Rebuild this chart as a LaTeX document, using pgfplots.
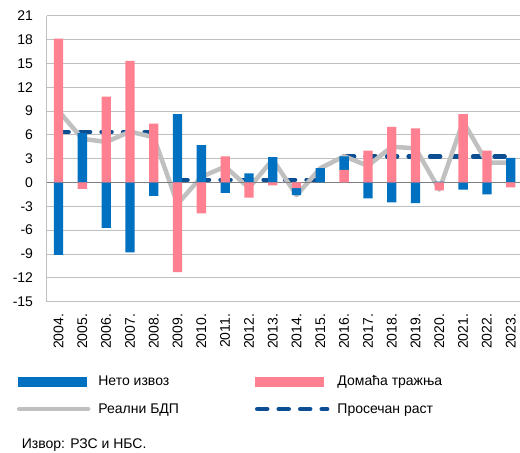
\documentclass[border=0pt]{standalone}
\usepackage{fontspec}
\setmainfont{Liberation Sans}
\usepackage{pgfplots}
\pgfplotsset{compat=1.18}
\definecolor{nx}{RGB}{0,112,192}
\definecolor{dt}{RGB}{255,128,144}
\definecolor{gdp}{RGB}{192,192,192}
\definecolor{avgc}{RGB}{12,78,146}
\definecolor{gridc}{RGB}{191,191,191}
\definecolor{zeroc}{RGB}{128,128,128}
\newcommand{\ff}{\fontsize{14}{16}\selectfont}
\begin{document}
\begin{tikzpicture}
\begin{axis}[name=ax, scale only axis, width=473.4pt, height=286pt,
  xmin=-0.5, xmax=19.39, ymin=-15, ymax=21, enlargelimits=false,
  ybar stacked, stack negative=separate, bar width=9.3pt,
  ytick={-15,-12,...,21},
  yticklabels={-15,-12,-9,-6,-3,0,3,6,9,12,15,18,21},
  xtick={0,...,19},
  xticklabels={2004.,2005.,2006.,2007.,2008.,2009.,2010.,2011.,2012.,2013.,2014.,2015.,2016.,2017.,2018.,2019.,2020.,2021.,2022.,2023.},
  tick label style={font=\ff, inner sep=0pt},
  xticklabel style={rotate=90, anchor=east},
  yticklabel style={anchor=east},
  xticklabel shift=12pt, yticklabel shift=13.5pt,
  major tick length=0pt,
  axis lines*=left,
  axis line style={gridc, line width=0.9pt, -},
  ymajorgrids, major grid style={gridc, line width=0.9pt},
  legend columns=2,
  legend style={at={(axis description cs:0,0)}, anchor=north west,
    xshift=-30pt, yshift=-72pt, draw=none, fill=none, inner sep=0pt,
    font=\ff, row sep=12pt,
    /tikz/every odd column/.append style={column sep=6pt},
    /tikz/every even column/.append style={column sep=74pt}},
  legend cell align=left,
]
\addlegendimage{legend image code/.code={\fill[nx] (0pt,-4.2pt) rectangle (68pt,4.2pt);}}
\addlegendentry{Нето извоз}
\addlegendimage{legend image code/.code={\fill[dt] (0pt,-4.2pt) rectangle (68pt,4.2pt);}}
\addlegendentry{Домаћа тражња}
\addlegendimage{legend image code/.code={\draw[gdp, line width=4.5pt, line cap=round] (1pt,0pt) -- (70pt,0pt);}}
\addlegendentry{Реални БДП}
\addlegendimage{legend image code/.code={\draw[avgc, line width=4.5pt, line cap=round, dash pattern=on 10pt off 11.5pt] (2pt,0pt) -- (72pt,0pt);}}
\addlegendentry{Просечан раст}

% Domaca traznja
\addplot[fill=dt, draw=none, forget plot] coordinates {
(0,18.1) (1,-0.8) (2,10.8) (3,15.3) (4,7.4) (5,-11.3) (6,-3.9) (7,3.3) (8,-1.9) (9,-0.35)
(10,-0.7) (11,0.0) (12,1.6) (13,4.0) (14,7.0) (15,6.8) (16,-1.0) (17,8.6) (18,4.0) (19,-0.6)};
% Neto izvoz
\addplot[fill=nx, draw=none, forget plot] coordinates {
(0,-9.1) (1,6.2) (2,-5.7) (3,-8.8) (4,-1.7) (5,8.6) (6,4.7) (7,-1.3) (8,1.15) (9,3.2)
(10,-0.9) (11,1.8) (12,1.7) (13,-2.0) (14,-2.5) (15,-2.6) (16,0.1) (17,-0.9) (18,-1.5) (19,3.1)};
% zero line
\addplot[sharp plot, stack plots=false, zeroc, line width=1.5pt, forget plot] coordinates {(-0.5,0) (19.39,0)};
% Realni BDP
\addplot[sharp plot, stack plots=false, gdp, line width=4.5pt, line join=round, forget plot] coordinates {
(0,9.0) (1,5.5) (2,5.1) (3,6.4) (4,5.7) (5,-2.7) (6,0.7) (7,2.0) (8,-0.7) (9,2.9)
(10,-1.6) (11,1.8) (12,3.3) (13,2.1) (14,4.5) (15,4.3) (16,-0.9) (17,7.7) (18,2.5) (19,2.5)};
% Prosecan rast
\addplot[sharp plot, stack plots=false, avgc, line width=4.5pt, line cap=round, dash pattern=on 10pt off 11.5pt, unbounded coords=jump, forget plot] coordinates {
(0,6.36) (1,6.36) (2,6.36) (3,6.36) (4,6.36) (4.5,nan)
(5,0.33) (6,0.33) (7,0.33) (8,0.33) (9,0.33) (10,0.33) (11,0.33) (11.5,nan)
(12,3.25) (13,3.25) (14,3.25) (15,3.25) (16,3.25) (17,3.25) (18,3.25) (19,3.25)};
\end{axis}
\node[anchor=base west, font=\ff, inner sep=0pt] at ([xshift=-25pt, yshift=-147.3pt]ax.south west) {Извор: РЗС и НБС.};
\pgfresetboundingbox
\path[use as bounding box] ([xshift=-46.7pt, yshift=-151.3pt]ax.south west) rectangle ([yshift=15.7pt]ax.north east);
\end{tikzpicture}
\end{document}
